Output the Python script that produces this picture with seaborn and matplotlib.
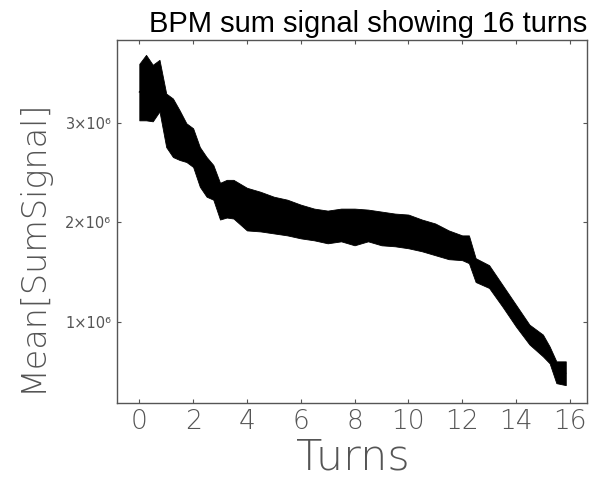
import matplotlib
matplotlib.use("Agg")
import matplotlib.pyplot as plt
import seaborn as sns
import pandas as pd

# Turns at which the signal envelope was read
turns = [0.0, 0.25, 0.5, 0.75, 1.0, 1.25, 1.5, 1.75, 2.0, 2.25, 2.5, 2.75, 3.0,
         3.25, 3.5, 4.0, 4.5, 5.0, 5.5, 6.0, 6.5, 7.0, 7.5, 8.0, 8.5, 9.0, 9.5,
         10.0, 10.5, 11.0, 11.5, 12.0, 12.25, 12.5, 13.0, 13.5, 14.0, 14.5,
         15.0, 15.25, 15.5, 15.85]
# Upper envelope of the sum signal (units of 1e6)
upper = [3.60, 3.69, 3.59, 3.64, 3.30, 3.25, 3.13, 3.00, 2.95, 2.76, 2.66, 2.58,
         2.40, 2.43, 2.43, 2.35, 2.31, 2.26, 2.23, 2.18, 2.14, 2.12, 2.14, 2.14,
         2.13, 2.11, 2.09, 2.08, 2.03, 1.99, 1.92, 1.87, 1.87, 1.64, 1.57, 1.37,
         1.17, 0.97, 0.87, 0.75, 0.60, 0.60]
# Lower envelope of the sum signal (units of 1e6)
lower = [3.03, 3.03, 3.02, 3.12, 2.76, 2.66, 2.63, 2.61, 2.56, 2.36, 2.26, 2.23,
         2.03, 2.05, 2.04, 1.92, 1.91, 1.89, 1.87, 1.84, 1.82, 1.79, 1.81, 1.77,
         1.81, 1.77, 1.76, 1.74, 1.71, 1.67, 1.63, 1.62, 1.59, 1.40, 1.34, 1.15,
         0.95, 0.77, 0.65, 0.58, 0.38, 0.36]

x_ticks = [0, 2, 4, 6, 8, 10, 12, 14, 16]
y_ticks = [1e6, 2e6, 3e6]
y_tick_labels = ["1×10⁶", "2×10⁶", "3×10⁶"]

df = pd.DataFrame({
    "turns": turns + turns,
    "signal": [v * 1e6 for v in upper] + [v * 1e6 for v in lower],
})

sns.set_style("white")
plt.rcParams["font.family"] = ["DejaVu Sans"]

fig = plt.figure(figsize=(5.92, 4.82), dpi=100)
ax = fig.add_axes([0.1976, 0.1639, 0.7940, 0.7531])

sns.lineplot(data=df, x="turns", y="signal", estimator="mean",
             errorbar=("pi", 100), color="black", linewidth=1.0,
             err_kws={"alpha": 1.0, "linewidth": 0.6, "edgecolor": "black"},
             ax=ax)

ax.set_xlim(-0.83, 16.64)
ax.set_ylim(0.18e6, 3.84e6)
ax.set_xticks(x_ticks)
ax.set_xticklabels([str(t) for t in x_ticks], fontsize=19, color="#555555",
                   fontweight=200)
ax.set_yticks(y_ticks)
ax.set_yticklabels(y_tick_labels, fontsize=10.5, color="#555555",
                   family=["DejaVu Sans"], fontweight="normal")
ax.tick_params(direction="in", length=3, width=0.8, color="#555555",
               top=True, right=True, bottom=True, left=True, pad=4)
for s in ax.spines.values():
    s.set_color("#555555")
    s.set_linewidth(1.0)

ax.set_xlabel("Turns", fontsize=31, color="#555555", fontweight=200,
              va="center")
ax.xaxis.set_label_coords(0.502, -0.15)
ax.set_ylabel("Mean[SumSignal]", fontsize=24, color="#555555", fontweight=200,
              va="center")
ax.yaxis.set_label_coords(-0.18, 0.435)
ax.set_title("BPM sum signal showing 16 turns", fontsize=21,
             family=["Liberation Sans"], color="black", pad=6, loc="right")

fig.savefig("out.png", dpi=100)
